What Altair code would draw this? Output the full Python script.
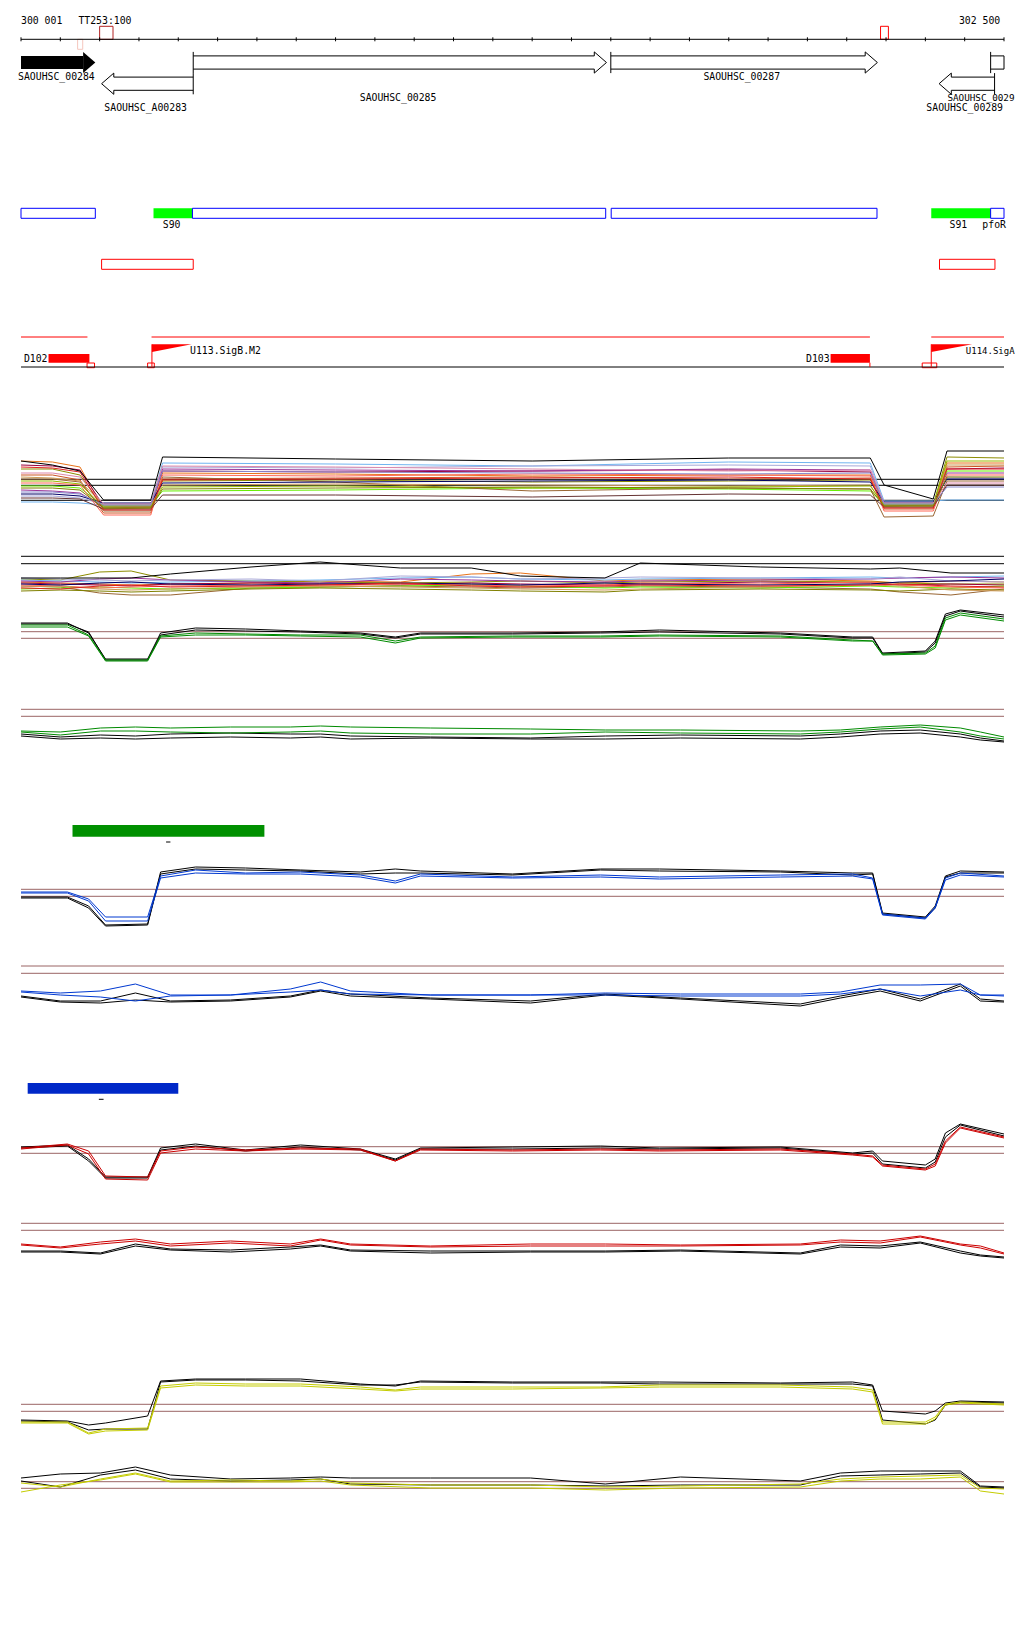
import altair as alt
import pandas as pd

# ======================= DATA =======================
X_DOMAIN = [300000, 302500]
RULER_TICKS = list(range(300000, 302501, 100))
RULER_TEXT = ["300 001", "302 500"]
RULER_TEXT_X = [300000, 302493]

MARK_X = [300200, 300144, 302186]
MARK_X2 = [300234, 300157, 302206]
MARK_SIDE = ["above", "below", "above"]
MARK_COLOR = ["#b22222", "#f5c6bd", "#ff0000"]
MARK_LABEL = "TT253:100"
MARK_LABEL_X = 300146

GENE_START = [300000, 300205, 300438, 301500, 302466, 302335]
GENE_END = [300189, 300438, 301489, 302178, 302500, 302476]
GENE_STRAND = ["+", "-", "+", "+", "+", "-"]
GENE_LANE = [0, 1, 0, 0, 0, 1]
GENE_FILLED = [True, False, False, False, False, False]
GENE_HEAD = [True, True, True, True, False, True]
GENE_LABEL = ["SAOUHSC_00284", "SAOUHSC_A00283", "SAOUHSC_00285", "SAOUHSC_00287", "SAOUHSC_0029", "SAOUHSC_00289"]
GENE_LABEL_X = [300090, 300317, 300959, 301833, 302356, 302400]
GENE_LABEL_ROW = [0, 2, 1, 0, 1, 2]
GENE_LABEL_ALIGN = ["center", "center", "center", "center", "edge", "center"]

SEG_START = [300000, 300337, 300436, 301501, 302315, 302466]
SEG_END = [300189, 300436, 301487, 302177, 302466, 302500]
SEG_FILLED = [False, True, False, False, True, False]
SEG_LABEL = ["S90", "S91", "pfoR"]
SEG_LABEL_X = [300383, 302384, 302475]

REDBOX_START = [300205, 302336]
REDBOX_END = [300438, 302477]

REDLINE_START = [300000, 300332, 302315]
REDLINE_END = [300169, 302159, 302500]

TERM_NAME = ["D102", "D103"]
TERM_START = [300070, 302059]
TERM_END = [300174, 302159]
SMALLBOX_START = [300168, 300322, 302292]
SMALLBOX_END = [300187, 300339, 302329]

PROM_NAME = ["U113.SigB.M2", "U114.SigA"]
PROM_POS = [300333, 302315]
PROM_FLAG_END = [300434, 302419]
PROM_LABEL_X = [300430, 302403]
PROM_LABEL_EDGE = [False, True]

GREEN_BAR = [300131, 300619]
GREEN_DASH = [300369, 300380]
BLUE_BAR = [300017, 300400]
BLUE_DASH = [300198, 300210]

# ---- multi-condition expression track (upper) ----
P1_X = [300000, 300080, 300150, 300210, 300330, 300360, 300800, 301300, 301800, 302160, 302195, 302320, 302355, 302500]
P1_COLORS = ["#e8731a", "#99003d", "#8c8c00", "#70b4f0", "#a8a8d8", "#993399", "#cc5522", "#66ee00",
             "#996633", "#ff6655", "#cc9955", "#000066", "#99bb00", "#663333", "#dd88aa", "#dd2222",
             "#8888cc", "#808000", "#000000"]
P1_SERIES = [
    [7.0, 6.9, 6.4, 2.2, 2.3, 5.8, 5.7, 5.5, 5.6, 5.6, 2.5, 2.6, 6.8, 6.8],
    [6.6, 6.5, 6.1, 2.5, 2.5, 6.0, 5.9, 6.0, 6.1, 5.9, 2.7, 2.7, 6.2, 6.3],
    [6.2, 6.2, 5.6, 2.3, 2.4, 5.0, 5.1, 4.9, 5.0, 5.1, 2.5, 2.6, 7.4, 7.3],
    [2.9, 2.9, 2.8, 2.6, 2.6, 6.8, 6.7, 6.5, 6.9, 6.8, 3.0, 3.0, 3.1, 3.1],
    [3.5, 3.5, 3.3, 2.7, 2.7, 6.4, 6.3, 6.5, 6.6, 6.5, 2.8, 2.8, 5.4, 5.3],
    [4.1, 4.0, 3.8, 2.4, 2.4, 6.2, 6.1, 6.0, 6.2, 6.1, 2.6, 2.6, 5.8, 5.8],
    [5.6, 5.6, 5.1, 1.8, 1.8, 5.2, 5.3, 5.4, 5.2, 5.3, 2.2, 2.2, 6.4, 6.5],
    [4.5, 4.5, 4.3, 2.5, 2.6, 4.0, 4.1, 4.3, 4.2, 4.0, 2.7, 2.7, 6.0, 6.0],
    [5.2, 5.2, 4.9, 2.0, 2.0, 5.4, 4.9, 4.0, 4.3, 4.2, 1.4, 1.5, 5.0, 5.0],
    [4.8, 4.8, 4.6, 1.6, 1.6, 5.6, 5.5, 5.7, 5.6, 5.5, 2.0, 2.0, 5.6, 5.6],
    [5.4, 5.3, 5.0, 2.6, 2.6, 4.6, 4.7, 4.6, 4.5, 4.6, 2.4, 2.4, 6.6, 6.6],
    [3.7, 3.7, 3.5, 2.8, 2.8, 4.8, 4.9, 5.0, 5.1, 4.9, 2.9, 2.9, 5.2, 5.2],
    [5.0, 5.0, 4.7, 2.4, 2.4, 4.4, 4.5, 4.3, 4.4, 4.5, 2.6, 2.6, 7.0, 7.0],
    [3.3, 3.3, 3.2, 2.2, 2.2, 3.6, 3.6, 3.4, 3.7, 3.6, 2.4, 2.4, 4.6, 4.6],
    [5.8, 5.8, 5.4, 2.7, 2.7, 6.5, 6.4, 6.2, 6.0, 6.1, 2.8, 2.8, 4.8, 4.8],
    [6.4, 6.3, 5.9, 2.1, 2.1, 5.1, 5.2, 5.3, 5.4, 5.2, 2.3, 2.3, 6.2, 6.2],
    [3.9, 3.9, 3.7, 2.6, 2.6, 6.0, 5.9, 5.8, 5.7, 5.8, 2.7, 2.7, 4.4, 4.4],
    [4.3, 4.3, 4.1, 2.3, 2.3, 4.2, 4.3, 4.4, 4.3, 4.2, 2.5, 2.5, 5.4, 5.4],
    [7.0, 6.6, 6.0, 3.1, 3.1, 7.4, 7.2, 7.0, 7.3, 7.3, 4.6, 3.2, 8.0, 8.0],
]
P1_REFS = [5.17, 4.57, 3.07]

# ---- multi-condition track (lower) ----
P2_X = [300000, 300100, 300200, 300280, 300380, 300585, 300760, 300965, 301145, 301270, 301485, 301575, 301880, 302160, 302235, 302365, 302500]
P2_COLORS = ["#e8731a", "#8c8c00", "#996633", "#70b4f0", "#993399", "#99003d", "#66ee00", "#808000",
             "#ff6655", "#a8a8d8", "#cc9955", "#000066", "#dd2222", "#000000"]
P2_SERIES = [
    [1.9, 1.8, 1.7, 1.6, 1.7, 1.8, 2.0, 1.9, 2.7, 2.8, 2.0, 2.1, 2.2, 2.0, 1.8, 2.0, 1.9],
    [2.2, 2.1, 2.9, 3.0, 2.1, 2.0, 1.9, 1.8, 1.9, 2.0, 1.8, 1.9, 2.0, 1.9, 1.8, 1.7, 1.7],
    [1.5, 1.4, 0.8, 0.6, 0.6, 1.3, 1.4, 1.5, 1.4, 1.3, 1.4, 1.5, 1.4, 1.2, 0.9, 0.6, 1.2],
    [2.1, 2.0, 1.9, 1.8, 1.9, 2.0, 2.1, 2.3, 2.4, 2.2, 2.1, 2.2, 2.3, 2.4, 2.3, 2.4, 2.5],
    [2.0, 1.9, 2.2, 2.3, 2.1, 1.9, 1.8, 2.2, 2.1, 2.0, 1.9, 2.0, 2.1, 2.2, 2.3, 2.4, 2.3],
    [1.8, 1.7, 1.6, 1.5, 1.7, 1.8, 1.7, 1.6, 1.8, 1.7, 1.6, 1.7, 1.9, 1.8, 1.6, 1.7, 1.6],
    [1.2, 1.3, 1.4, 1.3, 1.2, 1.3, 1.4, 1.5, 1.6, 1.5, 1.3, 1.4, 1.3, 1.5, 1.4, 1.3, 1.5],
    [1.0, 1.1, 1.0, 0.9, 1.0, 1.2, 1.3, 1.2, 1.1, 1.0, 0.9, 1.1, 1.2, 1.1, 1.0, 1.2, 1.1],
    [1.6, 1.5, 1.3, 1.4, 1.5, 1.6, 1.5, 1.7, 1.6, 1.5, 1.6, 1.8, 1.7, 1.9, 1.6, 1.4, 1.3],
    [2.3, 2.2, 2.1, 2.0, 2.1, 2.2, 2.0, 2.5, 2.4, 2.2, 2.3, 2.4, 2.3, 2.2, 2.4, 2.0, 1.9],
    [1.4, 1.5, 1.2, 1.1, 1.2, 1.4, 1.5, 1.4, 1.3, 1.2, 1.1, 1.2, 1.4, 1.6, 1.5, 1.1, 1.0],
    [1.7, 1.6, 1.8, 1.9, 1.7, 1.6, 1.7, 1.8, 1.7, 1.6, 1.8, 1.7, 1.6, 1.7, 1.9, 2.0, 2.2],
    [1.3, 1.2, 1.5, 1.6, 1.4, 1.5, 1.6, 1.8, 1.5, 1.4, 1.5, 1.6, 1.5, 1.6, 1.7, 1.5, 1.4],
    [2.3, 2.3, 2.3, 2.3, 2.7, 3.4, 3.9, 3.3, 3.3, 2.5, 2.3, 3.8, 3.4, 3.2, 3.3, 2.8, 2.8],
]
P2_REFS = [4.47, 3.73]

# ---- paired tracks: shared positions ----
XA = [300000, 300118, 300172, 300215, 300322, 300355, 300444, 300571, 300711, 300863, 300952, 301016,
      301250, 301474, 301624, 301932, 302115, 302166, 302191, 302300, 302325, 302351, 302389, 302500]
XB = [300000, 300100, 300202, 300291, 300380, 300533, 300685, 300762, 300838, 301041, 301296, 301486,
      301677, 301982, 302084, 302185, 302287, 302389, 302440, 302500]

GREEN_A = [
    [5.8, 5.8, 4.8, 2.2, 2.2, 4.8, 5.3, 5.2, 5.0, 4.8, 4.4, 4.8, 4.8, 4.9, 5.1, 4.8, 4.4, 4.4, 2.8, 3.0, 4.0, 6.7, 7.1, 6.6],
    [5.7, 5.7, 4.9, 2.1, 2.1, 4.6, 5.1, 5.0, 4.9, 4.7, 4.3, 4.7, 4.7, 4.8, 4.9, 4.7, 4.3, 4.3, 2.7, 2.9, 3.8, 6.5, 7.0, 6.4],
    [5.6, 5.6, 4.6, 2.1, 2.1, 4.5, 4.8, 4.7, 4.6, 4.6, 4.0, 4.4, 4.5, 4.5, 4.6, 4.5, 4.1, 4.0, 2.7, 2.8, 3.5, 6.3, 6.8, 6.2],
    [5.4, 5.4, 4.5, 2.0, 2.0, 4.4, 4.6, 4.6, 4.5, 4.4, 3.8, 4.3, 4.4, 4.4, 4.5, 4.4, 4.0, 4.0, 2.6, 2.7, 3.3, 6.1, 6.6, 6.0],
]
GREEN_B = [
    [2.7, 2.4, 2.6, 2.5, 2.7, 2.8, 2.7, 2.7, 2.5, 2.4, 2.3, 2.5, 2.6, 2.5, 2.7, 3.0, 3.1, 2.7, 2.3, 2.0],
    [2.5, 2.2, 2.3, 2.2, 2.3, 2.4, 2.3, 2.4, 2.2, 2.3, 2.2, 2.2, 2.3, 2.2, 2.4, 2.7, 2.8, 2.4, 2.1, 1.9],
    [3.0, 2.9, 3.3, 3.4, 3.3, 3.4, 3.4, 3.5, 3.4, 3.3, 3.2, 3.1, 3.1, 3.0, 3.1, 3.4, 3.6, 3.3, 2.9, 2.4],
    [2.9, 2.6, 3.0, 3.0, 2.9, 2.8, 2.9, 3.0, 2.8, 2.7, 2.7, 2.9, 2.8, 2.7, 2.9, 3.2, 3.4, 2.9, 2.5, 2.2],
]
BLUE_A = [
    [4.4, 4.4, 3.5, 1.6, 1.7, 6.9, 7.4, 7.3, 7.1, 6.9, 7.2, 7.0, 6.7, 7.2, 7.2, 7.0, 6.8, 6.8, 2.8, 2.4, 3.5, 6.5, 7.0, 6.9],
    [4.3, 4.3, 3.3, 1.5, 1.6, 6.7, 7.2, 7.1, 7.0, 6.7, 6.8, 6.8, 6.6, 7.1, 7.0, 6.9, 6.6, 6.7, 2.7, 2.3, 3.3, 6.4, 6.8, 6.8],
    [4.9, 4.9, 4.2, 2.4, 2.4, 6.5, 7.1, 6.8, 6.9, 6.6, 6.0, 6.7, 6.4, 6.6, 6.4, 6.6, 6.7, 6.3, 2.7, 2.3, 3.4, 6.3, 6.8, 6.5],
    [4.8, 4.8, 4.0, 2.0, 2.0, 6.3, 6.8, 6.7, 6.7, 6.4, 5.8, 6.5, 6.3, 6.4, 6.2, 6.4, 6.5, 6.2, 2.6, 2.2, 3.3, 6.1, 6.6, 6.4],
]
BLUE_B = [
    [2.5, 2.0, 2.0, 2.8, 2.0, 2.1, 2.5, 3.1, 2.7, 2.3, 2.0, 2.7, 2.3, 1.7, 2.5, 3.2, 2.2, 3.7, 2.2, 2.0],
    [2.4, 1.9, 1.8, 2.1, 1.9, 2.0, 2.4, 3.0, 2.5, 2.2, 1.8, 2.6, 2.2, 1.5, 2.3, 3.0, 2.0, 3.5, 2.0, 1.9],
    [3.0, 2.8, 3.0, 3.7, 2.6, 2.6, 3.2, 3.9, 3.0, 2.6, 2.6, 2.8, 2.7, 2.7, 2.9, 3.6, 3.6, 3.7, 2.6, 2.6],
    [2.9, 2.6, 2.4, 2.0, 2.5, 2.6, 2.9, 3.1, 2.7, 2.6, 2.6, 2.6, 2.5, 2.5, 2.7, 3.2, 2.5, 3.1, 2.6, 2.5],
]
RED_A = [
    [5.4, 5.6, 4.2, 2.4, 2.4, 5.3, 5.7, 5.1, 5.6, 5.2, 4.2, 5.3, 5.4, 5.5, 5.3, 5.4, 4.8, 5.0, 4.0, 3.6, 4.2, 6.8, 7.7, 6.7],
    [5.3, 5.5, 4.0, 2.3, 2.3, 5.1, 5.5, 5.0, 5.4, 5.1, 4.1, 5.2, 5.2, 5.3, 5.2, 5.3, 4.7, 4.8, 3.7, 3.3, 3.9, 6.4, 7.6, 6.5],
    [5.3, 5.7, 5.0, 2.5, 2.4, 5.0, 5.4, 5.1, 5.3, 5.2, 4.0, 5.2, 5.1, 5.2, 5.1, 5.2, 4.7, 4.5, 3.6, 3.2, 3.7, 6.0, 7.4, 6.4],
    [5.2, 5.6, 4.7, 2.2, 2.1, 4.8, 5.2, 5.0, 5.2, 5.1, 4.0, 5.1, 5.0, 5.1, 5.0, 5.1, 4.6, 4.4, 3.5, 3.1, 3.5, 5.8, 7.3, 6.3],
]
RED_B = [
    [2.0, 2.0, 1.8, 2.7, 2.2, 2.1, 2.4, 2.6, 2.1, 2.0, 2.0, 2.0, 2.1, 1.8, 2.6, 2.5, 2.9, 2.0, 1.6, 1.4],
    [1.9, 1.9, 1.7, 2.5, 2.1, 1.9, 2.2, 2.5, 2.0, 1.8, 1.9, 1.9, 2.0, 1.7, 2.4, 2.3, 2.8, 1.8, 1.5, 1.3],
    [2.7, 2.4, 2.9, 3.2, 2.7, 3.0, 2.7, 3.2, 2.7, 2.5, 2.7, 2.7, 2.6, 2.7, 3.1, 3.0, 3.5, 2.7, 2.5, 1.8],
    [2.6, 2.3, 2.7, 3.0, 2.5, 2.8, 2.5, 3.1, 2.6, 2.4, 2.5, 2.5, 2.5, 2.6, 2.9, 2.8, 3.4, 2.6, 2.3, 1.7],
]
YELLOW_A = [
    [3.1, 3.0, 2.6, 2.8, 3.5, 7.0, 7.2, 7.2, 7.2, 6.7, 6.5, 7.0, 6.9, 6.9, 6.9, 6.8, 6.9, 6.6, 4.0, 3.7, 4.0, 4.8, 5.0, 4.9],
    [3.0, 2.9, 2.1, 2.2, 2.2, 6.9, 7.1, 7.1, 7.0, 6.6, 6.6, 6.9, 6.8, 6.8, 6.7, 6.7, 6.7, 6.5, 3.1, 2.7, 3.1, 4.6, 4.9, 4.8],
    [2.9, 2.9, 1.8, 2.2, 2.3, 6.5, 6.8, 6.7, 6.7, 6.4, 6.1, 6.4, 6.4, 6.4, 6.6, 6.6, 6.4, 6.1, 2.9, 2.9, 3.4, 4.7, 4.9, 4.7],
    [2.8, 2.8, 1.7, 2.0, 2.1, 6.3, 6.6, 6.5, 6.5, 6.2, 6.0, 6.2, 6.2, 6.3, 6.4, 6.4, 6.2, 5.9, 2.7, 2.7, 3.2, 4.6, 4.8, 4.6],
]
YELLOW_B = [
    [3.3, 3.7, 3.8, 4.4, 3.6, 3.2, 3.3, 3.4, 3.3, 3.3, 3.3, 2.7, 3.4, 3.0, 3.8, 4.0, 4.0, 4.0, 2.5, 2.4],
    [3.0, 2.4, 3.6, 4.1, 3.2, 3.0, 3.1, 3.2, 2.7, 2.6, 2.6, 2.5, 2.6, 2.6, 3.5, 3.6, 3.7, 3.8, 2.4, 2.3],
    [2.8, 2.4, 3.2, 3.8, 3.0, 3.1, 3.0, 3.2, 2.8, 2.6, 2.6, 2.4, 2.5, 2.7, 3.2, 3.4, 3.5, 3.6, 2.3, 2.2],
    [1.9, 2.6, 3.1, 3.7, 2.9, 2.9, 2.9, 3.0, 2.6, 2.3, 2.3, 2.1, 2.3, 2.4, 3.0, 3.2, 3.2, 3.4, 2.0, 1.7],
]
REFS_GREEN_A = [4.93, 4.27]
REFS_GREEN_B = [5.17, 4.47]
REFS_BLUE_A = [5.17, 4.47]
REFS_BLUE_B = [5.5, 4.77]
REFS_RED_A = [5.43, 4.77]
REFS_RED_B = [4.77, 4.07]
REFS_YELLOW_A = [4.67, 3.97]
REFS_YELLOW_B = [2.93, 2.27]

# ======================= LAYOUT / STYLE =======================
PLOT_W = 983
PAD_LEFT = 9          # the first gene label hangs ~3px left of the axis start
FONT = "DejaVu Sans Mono"
FS = 9.8
EDGE_FS = {"SAOUHSC_0029": 9.3, "U114.SigA": 9.0}
REF_BROWN = "#9a6464"
L = dict(
    ann_h=372, ann_top=8,
    ruler_y=38.3, tick_y=(36.3, 40.3), ruler_text_y=19.5,
    mark_above=(25.3, 38.3), mark_below=(38.3, 48.3),
    lane_c=[61.5, 82.7], body=6.6, head_half=10.6, head_len=31,
    gene_label_y=[76, 97.3, 106.7],
    seg_y=(207.3, 217.3), seg_label_y=224.3,
    redbox_y=(258.3, 268.3),
    redline_y=336, base_y=366,
    term_y=(353, 361.7), term_label_y=357.7,
    smallbox_y=(362, 366.7),
    flag_top=343.3, flag_bot=351, flag_label_y=350,
)

XS = alt.Scale(domain=X_DOMAIN, nice=False, zero=False)


def X(f="x"):
    return alt.X(f"{f}:Q", scale=XS, axis=None)


# ======================= ANNOTATION PANEL =======================
AY = alt.Scale(domain=[L["ann_top"], L["ann_top"] + L["ann_h"]], reverse=True, nice=False, zero=False)


def Y(f="y"):
    return alt.Y(f"{f}:Q", scale=AY, axis=None)


filled, opened, rules, polys, areas = [], [], [], [], []
t_left, t_center, t_right, t_edge = [], [], [], []

# ruler
rules.append(dict(x=X_DOMAIN[0], x2=X_DOMAIN[1], y=L["ruler_y"], y2=L["ruler_y"], c="#000000"))
for t in RULER_TICKS:
    rules.append(dict(x=t, x2=t, y=L["tick_y"][0], y2=L["tick_y"][1], c="#000000"))
t_left.append(dict(x=RULER_TEXT_X[0], y=L["ruler_text_y"], t=RULER_TEXT[0]))
t_right.append(dict(x=RULER_TEXT_X[1], y=L["ruler_text_y"], t=RULER_TEXT[1]))
t_left.append(dict(x=MARK_LABEL_X, y=L["ruler_text_y"], t=MARK_LABEL))
for a, b, side, col in zip(MARK_X, MARK_X2, MARK_SIDE, MARK_COLOR):
    y0, y1 = L["mark_above"] if side == "above" else L["mark_below"]
    opened.append(dict(x=a, x2=b, y=y0, y2=y1, c=col))

# genes
for g, (s, e, st, ln, fl, hd) in enumerate(zip(GENE_START, GENE_END, GENE_STRAND, GENE_LANE, GENE_FILLED, GENE_HEAD)):
    c = L["lane_c"][ln]
    b, hh, h = L["body"], L["head_half"], L["head_len"]
    if fl:
        filled.append(dict(x=s, x2=e - h, y=c - b, y2=c + b, c="#000000"))
        areas.append(dict(g=g, x=e - h, y=c - hh, y2=c + hh, c="#000000"))
        areas.append(dict(g=g, x=e, y=c, y2=c, c="#000000"))
        continue
    if st == "+":
        if hd:
            pts = [(s, c - b), (e - h, c - b), (e - h, c - hh), (e, c), (e - h, c + hh), (e - h, c + b), (s, c + b)]
        else:
            pts = [(s, c - b), (e, c - b), (e, c + b), (s, c + b)]
        rules.append(dict(x=s, x2=s, y=c - hh, y2=c + hh, c="#000000"))
    else:
        pts = [(e, c - b), (s + h, c - b), (s + h, c - hh), (s, c), (s + h, c + hh), (s + h, c + b), (e, c + b)]
        rules.append(dict(x=e, x2=e, y=c - hh, y2=c + hh, c="#000000"))
    for i, (px, py) in enumerate(pts):
        polys.append(dict(g=g, i=i, x=px, y=py))
for txt, lx, row, al in zip(GENE_LABEL, GENE_LABEL_X, GENE_LABEL_ROW, GENE_LABEL_ALIGN):
    d = dict(x=lx, y=L["gene_label_y"][row], t=txt)
    (t_edge if al == "edge" else t_center).append(d)

# segments row
for s, e, fl in zip(SEG_START, SEG_END, SEG_FILLED):
    d = dict(x=s, x2=e, y=L["seg_y"][0], y2=L["seg_y"][1])
    if fl:
        d["c"] = "#00ff00"
        filled.append(d)
    else:
        d["c"] = "#0000ff"
        opened.append(d)
for txt, lx in zip(SEG_LABEL, SEG_LABEL_X):
    t_center.append(dict(x=lx, y=L["seg_label_y"], t=txt))

for s, e in zip(REDBOX_START, REDBOX_END):
    opened.append(dict(x=s, x2=e, y=L["redbox_y"][0], y2=L["redbox_y"][1], c="#ff0000"))

# regulatory row
for s, e in zip(REDLINE_START, REDLINE_END):
    rules.append(dict(x=s, x2=e, y=L["redline_y"], y2=L["redline_y"], c="#ff0000"))
rules.append(dict(x=X_DOMAIN[0], x2=X_DOMAIN[1], y=L["base_y"], y2=L["base_y"], c="#000000"))
for nm, s, e in zip(TERM_NAME, TERM_START, TERM_END):
    filled.append(dict(x=s, x2=e, y=L["term_y"][0], y2=L["term_y"][1], c="#ff0000"))
    t_right.append(dict(x=s, y=L["term_label_y"], t=nm))
rules.append(dict(x=TERM_END[1], x2=TERM_END[1], y=L["term_y"][1], y2=L["base_y"], c="#ff0000"))
for s, e in zip(SMALLBOX_START, SMALLBOX_END):
    opened.append(dict(x=s, x2=e, y=L["smallbox_y"][0], y2=L["smallbox_y"][1], c="#ff0000"))
for k, (nm, p, fe, lx, edge) in enumerate(zip(PROM_NAME, PROM_POS, PROM_FLAG_END, PROM_LABEL_X, PROM_LABEL_EDGE)):
    rules.append(dict(x=p, x2=p, y=L["flag_top"], y2=L["base_y"], c="#ff0000"))
    areas.append(dict(g=100 + k, x=p, y=L["flag_top"], y2=L["flag_bot"], c="#ff0000"))
    areas.append(dict(g=100 + k, x=fe, y=L["flag_top"], y2=L["flag_top"], c="#ff0000"))
    (t_edge if edge else t_left).append(dict(x=lx, y=L["flag_label_y"], t=nm))


def text_layer(rows, align, size=FS, **kw):
    return alt.Chart(pd.DataFrame(rows)).mark_text(
        align=align, baseline="middle", font=FONT, fontSize=size, color="#000000", **kw
    ).encode(x=X(), y=Y(), text="t:N")


ann_layers = [
    alt.Chart(pd.DataFrame(filled)).mark_rect(strokeWidth=0).encode(
        x=X(), x2="x2:Q", y=Y(), y2="y2:Q", color=alt.Color("c:N", scale=None)),
    alt.Chart(pd.DataFrame(areas)).mark_area(interpolate="linear").encode(
        x=X(), y=Y(), y2="y2:Q", detail="g:N", color=alt.Color("c:N", scale=None)),
    alt.Chart(pd.DataFrame(opened)).mark_rect(filled=False, strokeWidth=1).encode(
        x=X(), x2="x2:Q", y=Y(), y2="y2:Q", stroke=alt.Stroke("c:N", scale=None)),
    alt.Chart(pd.DataFrame(polys)).mark_line(color="#000000", strokeWidth=1).encode(
        x=X(), y=Y(), detail="g:N", order="i:Q"),
    alt.Chart(pd.DataFrame(rules)).mark_rule(strokeWidth=1).encode(
        x=X(), x2="x2:Q", y=Y(), y2="y2:Q", color=alt.Color("c:N", scale=None)),
    text_layer(t_left, "left"),
    text_layer(t_center, "center"),
    text_layer(t_right, "right", dx=-1),
]
for row in t_edge:
    ann_layers.append(text_layer([row], "left", size=EDGE_FS[row["t"]]))
ann = alt.layer(*ann_layers).properties(width=PLOT_W, height=L["ann_h"])


# ======================= EXPRESSION TRACKS =======================
def long_df(xs, series, colors):
    rows = []
    for k, (vals, col) in enumerate(zip(series, colors)):
        assert len(vals) == len(xs), (k, len(vals), len(xs))
        for i, (x, v) in enumerate(zip(xs, vals)):
            rows.append(dict(s=f"{k:02d}", x=x, v=v, i=i, c=col))
    return pd.DataFrame(rows)


def track(H, xs, series, colors, refs, ref_color):
    ys = alt.Scale(domain=[0, H / 10], nice=False, zero=False)
    ref = alt.Chart(pd.DataFrame({"v": refs})).mark_rule(color=ref_color, strokeWidth=1).encode(
        y=alt.Y("v:Q", scale=ys, axis=None))
    lines = alt.Chart(long_df(xs, series, colors)).mark_line(strokeWidth=1, clip=True).encode(
        x=X(), y=alt.Y("v:Q", scale=ys, axis=None),
        color=alt.Color("c:N", scale=None), detail="s:N", order="i:Q")
    return alt.layer(ref, lines).properties(width=PLOT_W, height=H)


def bar_panel(H, bar, dash, color, bar_rows, dash_row):
    ys = alt.Scale(domain=[0, H], reverse=True, nice=False, zero=False)
    b = alt.Chart(pd.DataFrame([dict(x=bar[0], x2=bar[1], y=bar_rows[0], y2=bar_rows[1])])).mark_rect(
        color=color, strokeWidth=0).encode(x=X(), x2="x2:Q", y=alt.Y("y:Q", scale=ys, axis=None), y2="y2:Q")
    d = alt.Chart(pd.DataFrame([dict(x=dash[0], x2=dash[1], y=dash_row)])).mark_rule(
        color="#000000", strokeWidth=1).encode(x=X(), x2="x2:Q", y=alt.Y("y:Q", scale=ys, axis=None))
    return alt.layer(b, d).properties(width=PLOT_W, height=H)


BLACK = "#000000"
GREEN = "#008a00"
BLUE = "#0038d0"
RED = "#cc0000"
YELLOW = "#c4cc00"

panels = [
    ann,
    track(150, P1_X, P1_SERIES, P1_COLORS, P1_REFS, "#000000"),
    track(70, P2_X, P2_SERIES, P2_COLORS, P2_REFS, "#000000"),
    track(80, XA, GREEN_A, [BLACK, BLACK, GREEN, GREEN], REFS_GREEN_A, REF_BROWN),
    track(80, XB, GREEN_B, [BLACK, BLACK, GREEN, GREEN], REFS_GREEN_B, REF_BROWN),
    bar_panel(90, GREEN_BAR, GREEN_DASH, "#009000", (64, 75.7), 81),
    track(90, XA, BLUE_A, [BLACK, BLACK, BLUE, BLUE], REFS_BLUE_A, REF_BROWN),
    track(80, XB, BLUE_B, [BLACK, BLACK, BLUE, BLUE], REFS_BLUE_B, REF_BROWN),
    bar_panel(90, BLUE_BAR, BLUE_DASH, "#0028c8", (62, 72.7), 78.3),
    track(90, XA, RED_A, [BLACK, BLACK, RED, RED], REFS_RED_A, REF_BROWN),
    track(70, XB, RED_B, [BLACK, BLACK, RED, RED], REFS_RED_B, REF_BROWN),
    track(180, XA, YELLOW_A, [BLACK, BLACK, YELLOW, YELLOW], REFS_YELLOW_A, REF_BROWN),
    track(60, XB, YELLOW_B, [BLACK, BLACK, YELLOW, YELLOW], REFS_YELLOW_B, REF_BROWN),
]

chart = alt.vconcat(*panels, spacing=0, bounds="flush").resolve_scale(
    x="independent", y="independent", color="independent", stroke="independent"
).properties(
    padding={"left": PAD_LEFT, "top": 0, "right": 0, "bottom": 0}
).configure_view(stroke="transparent")

chart.save("out.html", embed_options={"renderer": "svg", "actions": False})
